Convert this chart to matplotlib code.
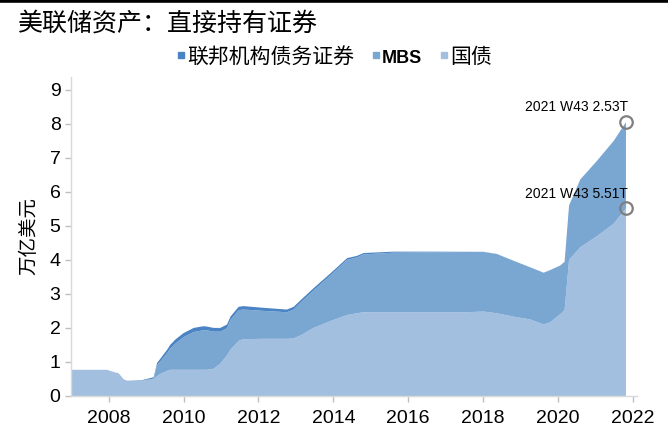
import matplotlib
matplotlib.use("Agg")
import matplotlib.pyplot as plt
from matplotlib.lines import Line2D

plt.rcParams['font.family'] = ['Liberation Sans', 'Noto Sans CJK SC', 'DejaVu Sans']

# 时间（年，小数）与各类证券持有量（万亿美元）
years = [2007.00, 2007.95, 2008.18, 2008.26, 2008.40, 2008.49, 2008.90, 2009.20,
         2009.29, 2009.38, 2009.56, 2009.64, 2009.78, 2010.00, 2010.27, 2010.53,
         2010.62, 2010.80, 2010.98, 2011.16, 2011.25, 2011.47, 2011.60, 2012.14,
         2012.76, 2012.94, 2013.16, 2013.47, 2013.92, 2014.37, 2014.63, 2014.81,
         2015.60, 2016.50, 2017.50, 2018.02, 2018.37, 2018.82, 2019.26, 2019.62,
         2019.80, 2020.06, 2020.18, 2020.30, 2020.60, 2021.04, 2021.49, 2021.82]
treasury = [0.77, 0.77, 0.69, 0.67, 0.49, 0.45, 0.46, 0.49,
            0.58, 0.65, 0.74, 0.77, 0.77, 0.77, 0.77, 0.77,
            0.77, 0.80, 0.95, 1.20, 1.36, 1.62, 1.67, 1.68,
            1.68, 1.69, 1.80, 2.00, 2.20, 2.38, 2.43, 2.46,
            2.46, 2.46, 2.46, 2.48, 2.43, 2.33, 2.25, 2.10,
            2.17, 2.40, 2.52, 4.00, 4.37, 4.69, 5.06, 5.51]
mbs = [0.0, 0.0, 0.0, 0.0, 0.0, 0.0, 0.0, 0.02,
       0.33, 0.37, 0.52, 0.62, 0.77, 0.96, 1.11, 1.16,
       1.16, 1.09, 0.94, 0.79, 0.87, 0.90, 0.87, 0.82,
       0.78, 0.85, 0.98, 1.10, 1.34, 1.62, 1.64, 1.70,
       1.75, 1.76, 1.77, 1.75, 1.74, 1.64, 1.53, 1.52,
       1.53, 1.43, 1.42, 1.60, 1.99, 2.21, 2.43, 2.53]
agency = [0.0, 0.0, 0.0, 0.0, 0.0, 0.0, 0.01, 0.04,
          0.06, 0.08, 0.10, 0.11, 0.12, 0.12, 0.12, 0.12,
          0.11, 0.11, 0.11, 0.11, 0.10, 0.10, 0.10, 0.09,
          0.08, 0.08, 0.07, 0.065, 0.06, 0.05, 0.045, 0.04,
          0.03, 0.02, 0.006, 0.004, 0.003, 0.002, 0.002, 0.002,
          0.002, 0.002, 0.002, 0.002, 0.002, 0.002, 0.002, 0.002]

labels = ['联邦机构债务证券', 'MBS', '国债']
colors = ['#4a84c4', '#7aa6d2', '#a2bfdf']

fig = plt.figure(figsize=(6.68, 4.28), dpi=100)
ax = fig.add_axes([0.1063, 0.0748, 0.8473, 0.746])

ax.stackplot(years, treasury, mbs, agency,
             colors=[colors[2], colors[1], colors[0]], linewidth=0)

# 最新值标注
last_total = treasury[-1] + mbs[-1] + agency[-1]
ax.plot([years[-1], years[-1]], [last_total, treasury[-1]], linestyle='',
        marker='o', markersize=9, markerfacecolor='none',
        markeredgecolor='#7f7f7f', markeredgewidth=1.6, clip_on=False)
ax.annotate('2021 W43 %.2fT' % mbs[-1], (years[-1], last_total),
            xytext=(1.5, 11), textcoords='offset points',
            ha='right', va='center', fontsize=10)
ax.annotate('2021 W43 %.2fT' % treasury[-1], (years[-1], treasury[-1]),
            xytext=(1.5, 10.5), textcoords='offset points',
            ha='right', va='center', fontsize=10)

ax.set_xlim(2006.99, 2022.115)
ax.set_ylim(0, 9.38)
ax.set_xticks([2008, 2010, 2012, 2014, 2016, 2018, 2020, 2022])
ax.set_yticks(range(10))
ax.tick_params(axis='both', labelsize=14, color='#bfbfbf', length=4, width=1)
ax.tick_params(axis='x', pad=6)

for s in ['top', 'right']:
    ax.spines[s].set_visible(False)
for s in ['left', 'bottom']:
    ax.spines[s].set_color('#d9d9d9')
    ax.spines[s].set_linewidth(1)

ax.set_ylabel('万亿美元', fontsize=14, fontweight='light')
ax.yaxis.set_label_coords(-0.058, 0.5)

handles = [Line2D([], [], marker='s', linestyle='', color=c, markersize=4)
           for c in colors]
leg = fig.legend(handles, labels, loc='center', bbox_to_anchor=(0.5015, 0.8675),
                 ncol=3, frameon=False, fontsize=15, handlelength=0.3,
                 handletextpad=0.15, columnspacing=0.9,
                 prop={'size': 15, 'weight': 'light'})
leg.get_texts()[1].set_fontweight('bold')
leg.get_texts()[1].set_fontsize(13)

fig.text(0.027, 0.946, '美联储资产：直接持有证券', fontsize=18, fontweight='light',
         va='center', ha='left')
fig.add_artist(Line2D([0, 1], [0.9965, 0.9965], color='black', linewidth=2.6,
                      transform=fig.transFigure))

fig.savefig('out.png', dpi=100)
